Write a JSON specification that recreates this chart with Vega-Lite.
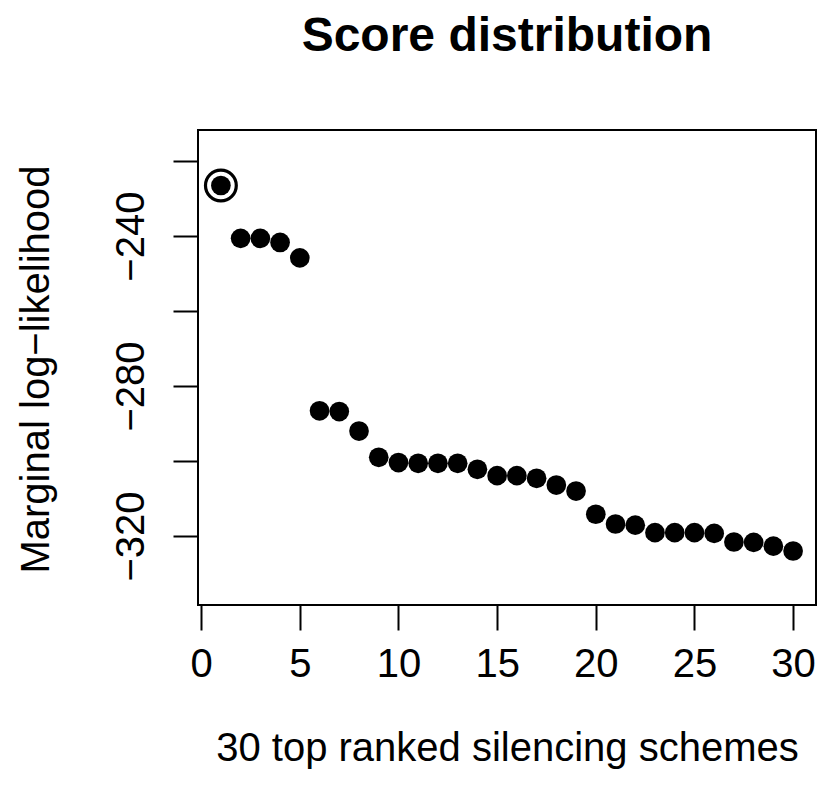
{
  "$schema": "https://vega.github.io/schema/vega-lite/v6.json",
  "width": 618,
  "height": 475,
  "autosize": {"type": "none"},
  "padding": {"left": 198, "top": 130, "right": 5, "bottom": 190},
  "background": "white",
  "config": {
    "view": {"stroke": "black", "strokeWidth": 2},
    "font": "Liberation Sans"
  },
  "title": {
    "text": "Score distribution",
    "font": "Liberation Sans",
    "fontSize": 48,
    "fontWeight": "bold",
    "color": "black",
    "anchor": "middle",
    "baseline": "alphabetic",
    "offset": 31
  },
  "data": {
    "values": [
      {"rank": 1, "score": -226.5},
      {"rank": 2, "score": -240.6},
      {"rank": 3, "score": -240.6},
      {"rank": 4, "score": -241.7},
      {"rank": 5, "score": -245.8},
      {"rank": 6, "score": -286.6},
      {"rank": 7, "score": -286.8},
      {"rank": 8, "score": -292.0},
      {"rank": 9, "score": -299.0},
      {"rank": 10, "score": -300.4},
      {"rank": 11, "score": -300.6},
      {"rank": 12, "score": -300.6},
      {"rank": 13, "score": -300.6},
      {"rank": 14, "score": -302.2},
      {"rank": 15, "score": -303.9},
      {"rank": 16, "score": -303.9},
      {"rank": 17, "score": -304.6},
      {"rank": 18, "score": -306.4},
      {"rank": 19, "score": -308.0},
      {"rank": 20, "score": -314.2},
      {"rank": 21, "score": -316.8},
      {"rank": 22, "score": -317.1},
      {"rank": 23, "score": -319.1},
      {"rank": 24, "score": -319.1},
      {"rank": 25, "score": -319.1},
      {"rank": 26, "score": -319.3},
      {"rank": 27, "score": -321.6},
      {"rank": 28, "score": -321.7},
      {"rank": 29, "score": -322.7},
      {"rank": 30, "score": -324.0}
    ]
  },
  "encoding": {
    "x": {
      "field": "rank",
      "type": "quantitative",
      "scale": {"domain": [-0.16, 31.16], "nice": false, "zero": false},
      "axis": {
        "values": [0, 5, 10, 15, 20, 25, 30],
        "grid": false,
        "domain": false,
        "ticks": true,
        "tickSize": 25,
        "tickWidth": 2,
        "tickColor": "black",
        "labelFont": "Liberation Sans",
        "labelFontSize": 40,
        "labelColor": "black",
        "labelPadding": 14,
        "labelFlush": false,
        "labelOverlap": false,
        "title": "30 top ranked silencing schemes",
        "titleFont": "Liberation Sans",
        "titleFontSize": 40,
        "titleFontWeight": "normal",
        "titleColor": "black",
        "titleBaseline": "alphabetic",
        "titleY": 155,
        "titleX": 309
      }
    },
    "y": {
      "field": "score",
      "type": "quantitative",
      "scale": {"domain": [-338.4, -211.7], "nice": false, "zero": false},
      "axis": {
        "values": [-220, -240, -260, -280, -300, -320],
        "labelExpr": "datum.value % 40 == 0 ? datum.label : ''",
        "grid": false,
        "domain": false,
        "ticks": true,
        "tickSize": 25,
        "tickWidth": 2,
        "tickColor": "black",
        "labelFont": "Liberation Sans",
        "labelFontSize": 40,
        "labelColor": "black",
        "labelAngle": -90,
        "labelAlign": "center",
        "labelBaseline": "alphabetic",
        "labelPadding": 30,
        "labelOverlap": false,
        "title": "Marginal log−likelihood",
        "titleFont": "Liberation Sans",
        "titleFontSize": 40,
        "titleFontWeight": "normal",
        "titleColor": "black",
        "titleAngle": -90,
        "titleBaseline": "alphabetic",
        "titleAlign": "center",
        "titleX": -150,
        "titleY": 239
      }
    }
  },
  "layer": [
    {
      "mark": {"type": "point", "shape": "circle", "filled": true, "color": "black", "size": 388, "opacity": 1}
    },
    {
      "transform": [{"filter": "datum.rank == 1"}],
      "mark": {"type": "point", "shape": "circle", "filled": false, "color": "black", "size": 949, "strokeWidth": 3.2, "opacity": 1}
    }
  ]
}
